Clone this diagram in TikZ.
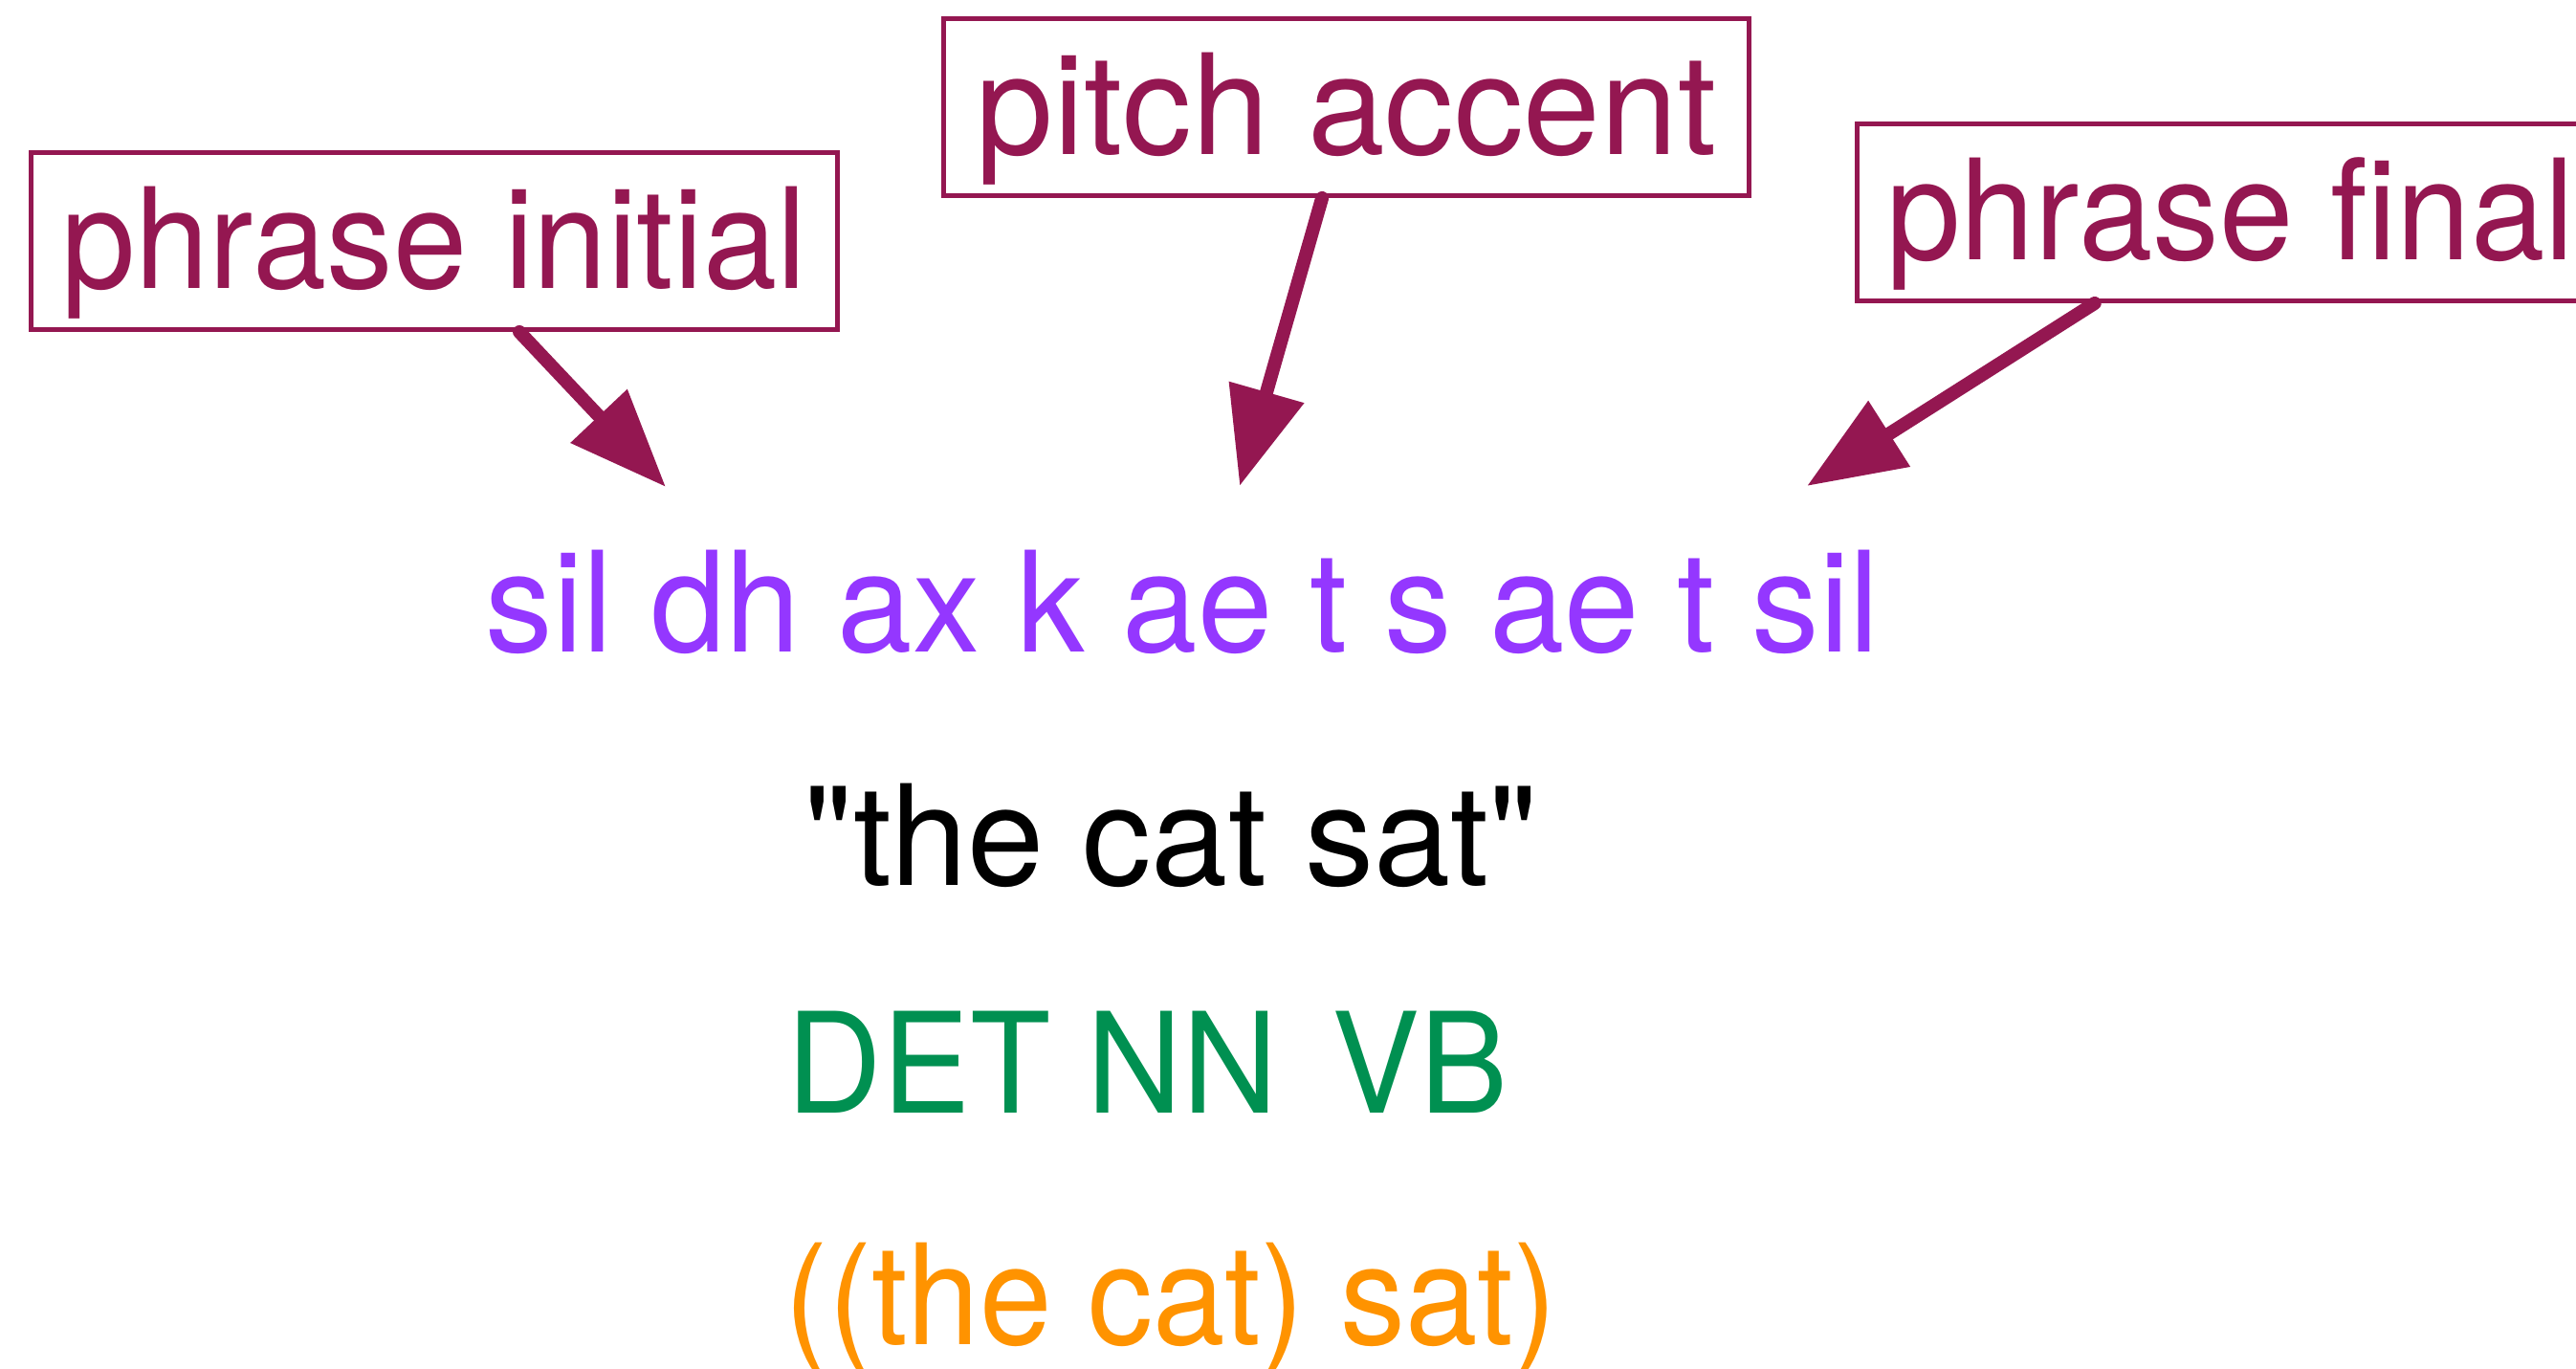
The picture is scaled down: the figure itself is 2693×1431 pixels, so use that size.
\documentclass[tikz,border=0pt]{standalone}
\usepackage{fontspec}
\setmainfont{TeX Gyre Heros}[Ligatures=TeXOff]
\usetikzlibrary{arrows.meta,calc}
\definecolor{maroon}{HTML}{941751}
\definecolor{grape}{HTML}{9437FF}
\definecolor{moss}{HTML}{009051}
\definecolor{tangerine}{HTML}{FF9300}
% squeeze a line of text to a given width, keeping its height
\newcommand{\fitto}[2]{\resizebox{#1}{\height}{#2}}

\begin{document}
\begin{tikzpicture}[x=0.25pt,y=-0.25pt,
  every node/.style={inner sep=0pt, font=\fontsize{36.5}{40}\selectfont},
  label box/.style={draw=maroon, line width=1.25pt, text=maroon,
    text height=35.5pt, text depth=10.75pt, anchor=north west},
  pointer/.style={draw=maroon, fill=maroon, line width=3.5pt, line cap=round,
    -{Triangle[length=25.5pt,width=19.5pt]}},
  seq/.style={anchor=base west}]
\useasboundingbox (0,0) rectangle (2693,1431);
\clip (0,0) rectangle (2693,1431);

% annotation boxes
\node[label box, minimum width=210.75pt] (initial) at (30,157)
  {\fitto{194.75pt}{phrase initial}};
\node[label box, minimum width=210.5pt] (accent) at (984,17)
  {\fitto{193.5pt}{pitch accent}};
\node[label box, minimum width=195.25pt] (final) at (1939,127)
  {\fitto{179.75pt}{phrase final}};

% the layered representations of the utterance
\node[seq, text=grape] (phones) at (507,681)
  {\fitto{364.25pt}{sil dh ax k ae t s ae t sil}};
\node[seq, text=black] (words) at (840,925)
  {\fitto{191.75pt}{"the cat sat"}};
\node[seq, text=moss] (pos) at (822,1163)
  {\fitto{188.5pt}{DET NN\hspace{5pt} VB}};
\node[seq, text=tangerine] (syntax) at (820,1405)
  {\fitto{201.75pt}{((the cat) sat)}};

% arrow targets just above the phone string
\coordinate (tipI) at (696,509);
\coordinate (tipA) at (1296,508);
\coordinate (tipF) at (1889,508);

\draw[pointer] ($(initial.south west)!0.605!(initial.south east)$) -- (tipI);
\draw[pointer] ($(accent.south west)!0.470!(accent.south east)$) -- (tipA);
\draw[pointer] ($(final.south west)!0.319!(final.south east)$) -- (tipF);
\end{tikzpicture}
\end{document}
